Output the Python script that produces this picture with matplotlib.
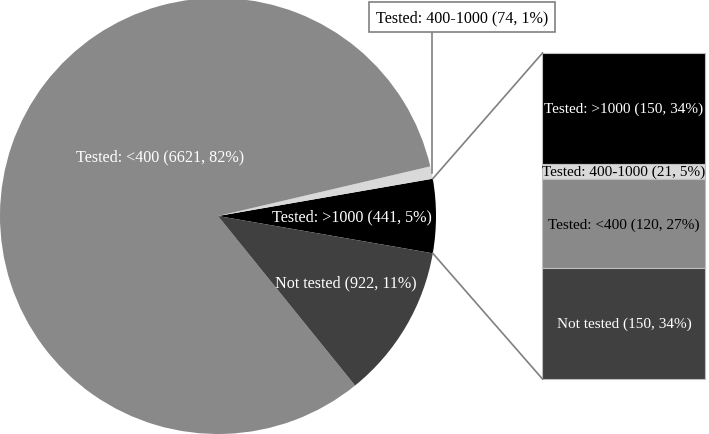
import numpy as np
import matplotlib.pyplot as plt

# pie data
pie_labels = ["Tested: >1000", "Tested: 400-1000", "Tested: <400", "Not tested"]
pie_counts = [441, 74, 6621, 922]
pie_pcts = [5, 1, 82, 11]
pie_colors = ["#000000", "#d9d9d9", "#898989", "#404040"]
pie_text_colors = ["white", "black", "white", "white"]

# breakdown of the >1000 slice
bar_labels = ["Tested: >1000", "Tested: 400-1000", "Tested: <400", "Not tested"]
bar_counts = [150, 21, 120, 150]
bar_pcts = [34, 5, 27, 34]
bar_colors = ["#000000", "#d9d9d9", "#898989", "#404040"]
bar_text_colors = ["white", "black", "black", "white"]

plt.rcParams['font.family'] = ['Liberation Serif', 'DejaVu Serif']
fs = 11.6

fig = plt.figure(figsize=(7.09, 4.35), dpi=100)
ax = fig.add_axes([0, 0, 1, 1])

cx, cy, r = 218, 218, 218
total = sum(pie_counts)
start = -pie_counts[0] / total * 360 / 2
wedges, _ = ax.pie(pie_counts, colors=pie_colors, startangle=start, counterclock=True,
                   center=(cx, cy), radius=r, wedgeprops=dict(linewidth=0))

# labels inside the pie
pos = {0: (352, 218), 2: (160, 278), 3: (346, 152)}
for i, (x, y) in pos.items():
    ax.text(x, y, f"{pie_labels[i]} ({pie_counts[i]}, {pie_pcts[i]}%)", color=pie_text_colors[i],
            ha="center", va="center", fontsize=fs)

# callout for the thin slice
w = wedges[1]
mid = np.deg2rad((w.theta1 + w.theta2) / 2)
px, py = cx + r * np.cos(mid), cy + r * np.sin(mid)
ax.plot([px, px], [py, 401], color="#808080", lw=1.2)
ax.text(462, 417, f"{pie_labels[1]} ({pie_counts[1]}, {pie_pcts[1]}%)", ha="center", va="center",
        fontsize=fs, bbox=dict(boxstyle="square,pad=0.45", fc="white", ec="#808080", lw=1.2))

# stacked bar (bar of pie)
bx, bw, b0, bh = 624, 163, 55, 326
btotal = sum(bar_counts)
top = b0 + bh
for lab, c, p, col, tc in zip(bar_labels, bar_counts, bar_pcts, bar_colors, bar_text_colors):
    h = c / btotal * bh
    ax.bar(bx, h, width=bw, bottom=top - h, color=col, edgecolor="#bfbfbf", linewidth=0.8)
    ax.text(bx, top - h / 2, f"{lab} ({c}, {p}%)", color=tc, ha="center", va="center", fontsize=11)
    top -= h

# connector lines
w = wedges[0]
for ang, by in [(w.theta2, b0 + bh), (w.theta1, b0)]:
    a = np.deg2rad(ang)
    ax.plot([cx + r * np.cos(a), bx - bw / 2], [cy + r * np.sin(a), by], color="#808080", lw=1.2)

ax.set_xlim(0, 709)
ax.set_ylim(0, 435)
ax.set_aspect("equal")
ax.axis("off")

plt.savefig("out.png", dpi=100)
